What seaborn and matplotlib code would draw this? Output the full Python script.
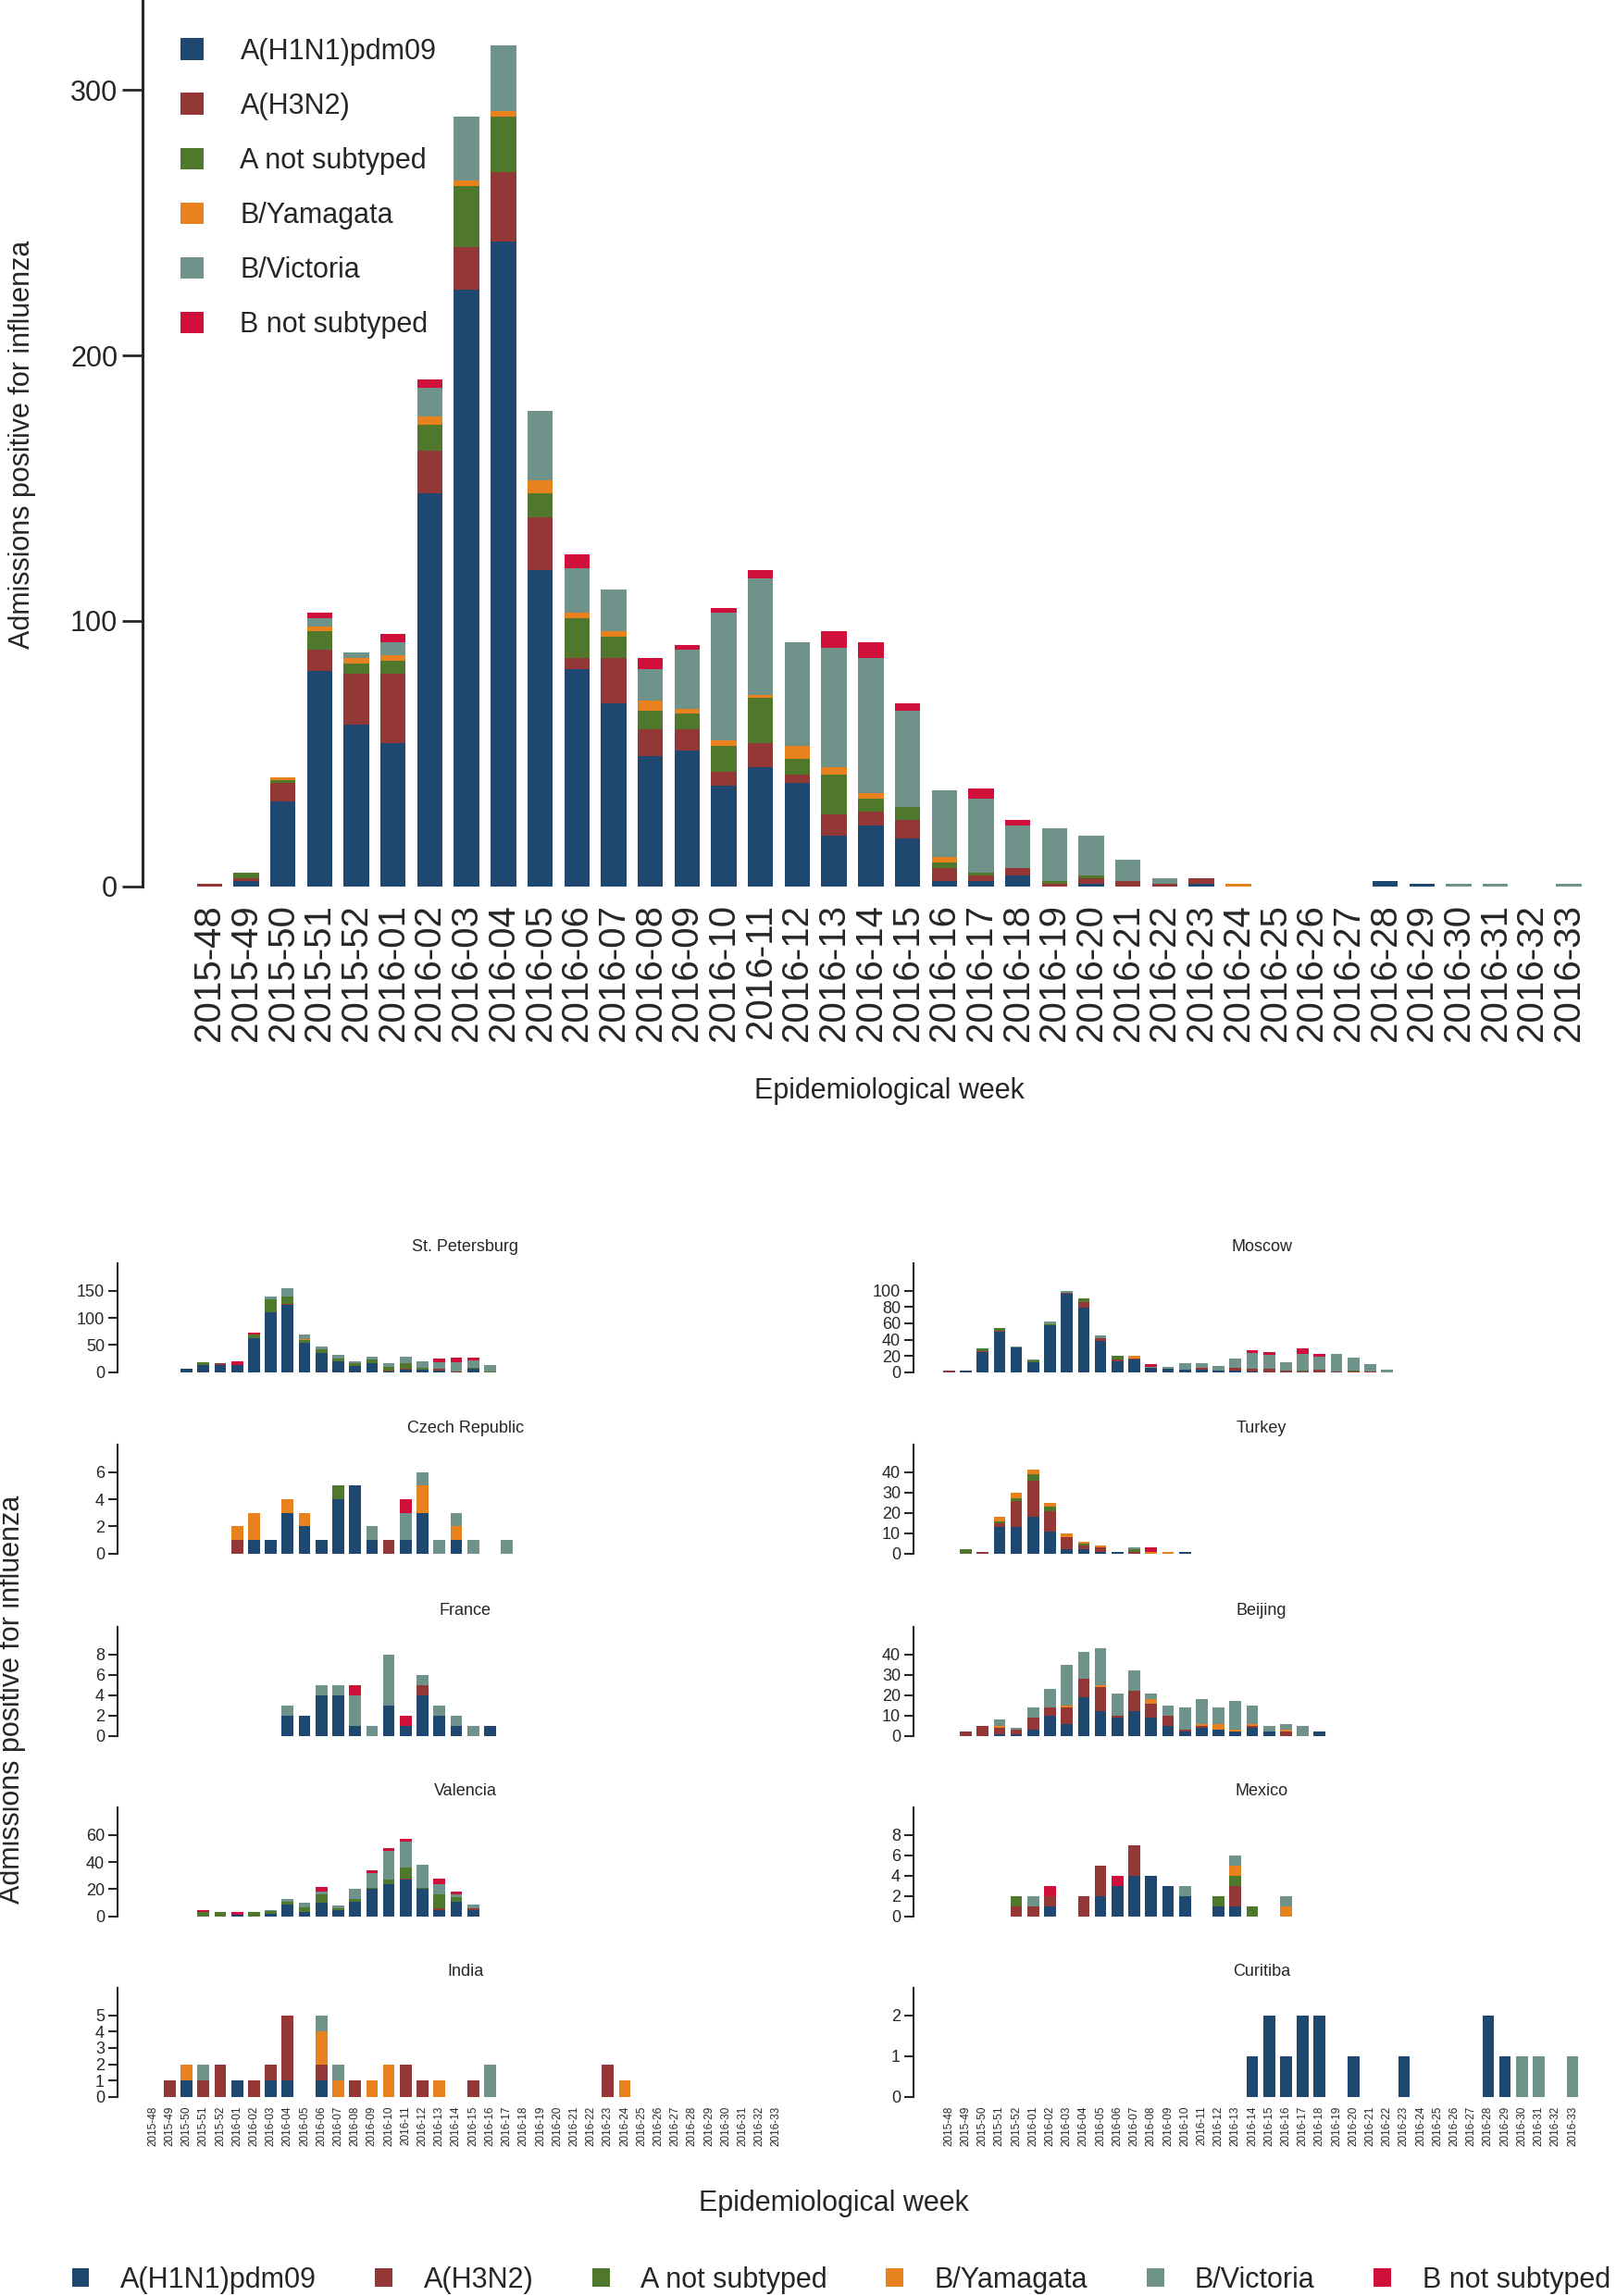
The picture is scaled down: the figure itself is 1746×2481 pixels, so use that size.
import matplotlib
matplotlib.use("Agg")
import matplotlib.pyplot as plt
from matplotlib.patches import Patch
import pandas as pd
import seaborn as sns

# weeks 2015-48 .. 2016-33
WEEKS = [f"2015-{w}" for w in range(48, 53)] + [f"2016-{w:02d}" for w in range(1, 34)]

SUBTYPES = ["A(H1N1)pdm09", "A(H3N2)", "A not subtyped",
            "B/Yamagata", "B/Victoria", "B not subtyped"]
COLORS = ["#1e4870", "#943737", "#50782d", "#e8821e", "#6f928a", "#d0103a"]

# all sites, one value per week
ALL_H1N1 = [0, 2, 32, 81, 61, 54, 148, 225, 243, 119, 82, 69, 49, 51, 38, 45, 39, 19, 23,
            18, 2, 2, 4, 0, 1, 0, 0, 1, 0, 0, 0, 0, 2, 1, 0, 0, 0, 0]
ALL_H3N2 = [1, 1, 7, 8, 19, 26, 16, 16, 26, 20, 4, 17, 10, 8, 5, 9, 3, 8, 5,
            7, 5, 2, 3, 1, 2, 2, 1, 2, 0, 0, 0, 0, 0, 0, 0, 0, 0, 0]
ALL_ANS = [0, 2, 1, 7, 4, 5, 10, 23, 21, 9, 15, 8, 7, 6, 10, 17, 6, 15, 5,
           5, 2, 1, 0, 1, 1, 0, 0, 0, 0, 0, 0, 0, 0, 0, 0, 0, 0, 0]
ALL_BYAM = [0, 0, 1, 2, 2, 2, 3, 2, 2, 5, 2, 2, 4, 2, 2, 1, 5, 3, 2,
            0, 2, 0, 0, 0, 0, 0, 0, 0, 1, 0, 0, 0, 0, 0, 0, 0, 0, 0]
ALL_BVIC = [0, 0, 0, 3, 2, 5, 11, 24, 25, 26, 17, 16, 12, 22, 48, 44, 39, 45, 51,
            36, 25, 28, 16, 20, 15, 8, 2, 0, 0, 0, 0, 0, 0, 0, 1, 1, 0, 1]
ALL_BNS = [0, 0, 0, 2, 0, 3, 3, 0, 0, 0, 5, 0, 4, 2, 2, 3, 0, 6, 6,
           3, 0, 4, 2, 0, 0, 0, 0, 0, 0, 0, 0, 0, 0, 0, 0, 0, 0, 0]

# sites: first week shown, then values per subtype from that week on
ST_PETERSBURG = {
    "start": "2015-50",
    "A(H1N1)pdm09": [7, 13, 13, 14, 63, 111, 124, 55, 35, 20, 12, 17, 1, 5, 5, 4, 0, 6, 0],
    "A(H3N2)": [0, 0, 3, 0, 0, 0, 1, 0, 0, 0, 0, 0, 2, 2, 0, 2, 1, 0, 0],
    "A not subtyped": [0, 5, 0, 0, 6, 23, 15, 4, 7, 5, 4, 6, 7, 10, 3, 1, 0, 3, 1],
    "B/Yamagata": [0, 0, 0, 0, 0, 0, 0, 2, 0, 0, 0, 0, 0, 0, 0, 0, 0, 0, 0],
    "B/Victoria": [0, 0, 1, 0, 0, 6, 14, 8, 5, 7, 5, 6, 7, 11, 12, 12, 18, 13, 13],
    "B not subtyped": [0, 0, 0, 6, 4, 0, 0, 0, 0, 0, 0, 0, 0, 0, 0, 6, 8, 5, 0],
}
MOSCOW = {
    "start": "2015-48",
    "A(H1N1)pdm09": [0, 2, 25, 50, 31, 12, 58, 96, 79, 38, 14, 16, 6, 4, 3, 3, 2, 2, 1,
                     0, 0, 0, 0, 0, 0, 0, 0],
    "A(H3N2)": [2, 0, 1, 1, 0, 0, 0, 1, 7, 4, 2, 1, 0, 0, 0, 2, 0, 3, 3, 4, 2, 1, 3, 1, 1, 1, 0],
    "A not subtyped": [0, 0, 3, 3, 0, 3, 1, 0, 5, 0, 4, 0, 0, 0, 0, 0, 0, 0, 0, 0, 0, 1, 0, 0, 1, 0, 0],
    "B/Yamagata": [0, 0, 0, 0, 0, 0, 0, 0, 0, 0, 0, 3, 0, 0, 0, 0, 0, 0, 0, 0, 0, 0, 0, 0, 0, 0, 0],
    "B/Victoria": [0, 0, 0, 0, 1, 1, 3, 3, 0, 3, 0, 0, 1, 3, 8, 6, 6, 12, 20, 17, 10, 21, 16,
                   21, 16, 9, 3],
    "B not subtyped": [0, 0, 0, 0, 0, 0, 0, 0, 0, 0, 0, 0, 3, 0, 0, 0, 0, 0, 3, 4, 0, 6, 3, 0, 0, 0, 0],
}
CZECH = {
    "start": "2016-01",
    "A(H1N1)pdm09": [0, 1, 1, 3, 2, 1, 4, 5, 1, 0, 1, 3, 0, 1, 0, 0, 0],
    "A(H3N2)": [1, 0, 0, 0, 0, 0, 0, 0, 0, 1, 0, 0, 0, 0, 0, 0, 0],
    "A not subtyped": [0, 0, 0, 0, 0, 0, 1, 0, 0, 0, 0, 0, 0, 0, 0, 0, 0],
    "B/Yamagata": [1, 2, 0, 1, 1, 0, 0, 0, 0, 0, 0, 2, 0, 1, 0, 0, 0],
    "B/Victoria": [0, 0, 0, 0, 0, 0, 0, 0, 1, 0, 2, 1, 1, 1, 1, 0, 1],
    "B not subtyped": [0, 0, 0, 0, 0, 0, 0, 0, 0, 0, 1, 0, 0, 0, 0, 0, 0],
}
TURKEY = {
    "start": "2015-49",
    "A(H1N1)pdm09": [0, 0, 13, 13, 18, 11, 2, 2, 1, 1, 0, 0, 0, 1],
    "A(H3N2)": [0, 1, 2, 13, 18, 10, 6, 2, 2, 0, 1, 0, 0, 0],
    "A not subtyped": [2, 0, 1, 1, 3, 2, 0, 1, 0, 0, 1, 0, 0, 0],
    "B/Yamagata": [0, 0, 2, 3, 2, 2, 2, 1, 1, 0, 0, 1, 1, 0],
    "B/Victoria": [0, 0, 0, 0, 0, 0, 0, 0, 0, 0, 1, 0, 0, 0],
    "B not subtyped": [0, 0, 0, 0, 0, 0, 0, 0, 0, 0, 0, 2, 0, 0],
}
FRANCE = {
    "start": "2016-04",
    "A(H1N1)pdm09": [2, 2, 4, 4, 1, 0, 3, 1, 4, 2, 1, 0, 1],
    "A(H3N2)": [0, 0, 0, 0, 0, 0, 0, 0, 1, 0, 0, 0, 0],
    "B/Victoria": [1, 0, 1, 1, 3, 1, 5, 0, 1, 1, 1, 1, 0],
    "B not subtyped": [0, 0, 0, 0, 1, 0, 0, 1, 0, 0, 0, 0, 0],
}
BEIJING = {
    "start": "2015-49",
    "A(H1N1)pdm09": [0, 0, 1, 1, 3, 10, 6, 19, 12, 9, 12, 9, 5, 2, 4, 3, 2, 4, 2, 0, 0, 2],
    "A(H3N2)": [2, 5, 3, 2, 6, 4, 8, 9, 12, 1, 10, 7, 5, 1, 1, 0, 0, 1, 0, 2, 0, 0],
    "B/Yamagata": [0, 0, 1, 0, 0, 0, 1, 0, 1, 0, 0, 2, 0, 0, 1, 3, 1, 1, 0, 1, 0, 0],
    "B/Victoria": [0, 0, 3, 1, 5, 9, 20, 13, 18, 11, 10, 3, 5, 11, 12, 8, 14, 9, 3, 3, 5, 0],
}
VALENCIA = {
    "start": "2015-51",
    "A(H1N1)pdm09": [0, 0, 1, 0, 2, 9, 3, 10, 5, 11, 20, 24, 27, 20, 5, 11, 5],
    "A(H3N2)": [0, 0, 0, 0, 0, 0, 0, 0, 0, 0, 0, 0, 1, 0, 1, 0, 1],
    "A not subtyped": [3, 3, 0, 3, 2, 2, 4, 6, 1, 2, 1, 3, 8, 1, 10, 3, 0],
    "B/Victoria": [0, 0, 0, 0, 1, 2, 3, 2, 2, 7, 11, 21, 19, 17, 8, 2, 3],
    "B not subtyped": [2, 0, 2, 0, 0, 0, 0, 4, 0, 0, 2, 2, 2, 0, 4, 2, 0],
}
MEXICO = {
    "start": "2015-52",
    "A(H1N1)pdm09": [0, 0, 1, 0, 0, 2, 3, 4, 4, 3, 2, 0, 1, 1, 0, 0, 0],
    "A(H3N2)": [1, 1, 1, 0, 2, 3, 0, 3, 0, 0, 0, 0, 0, 2, 0, 0, 0],
    "A not subtyped": [1, 0, 0, 0, 0, 0, 0, 0, 0, 0, 0, 0, 1, 1, 1, 0, 0],
    "B/Yamagata": [0, 0, 0, 0, 0, 0, 0, 0, 0, 0, 0, 0, 0, 1, 0, 0, 1],
    "B/Victoria": [0, 1, 0, 0, 0, 0, 0, 0, 0, 0, 1, 0, 0, 1, 0, 0, 1],
    "B not subtyped": [0, 0, 1, 0, 0, 0, 1, 0, 0, 0, 0, 0, 0, 0, 0, 0, 0],
}
INDIA = {
    "start": "2015-49",
    "A(H1N1)pdm09": [0, 1, 0, 0, 1, 0, 1, 1, 0, 1, 0, 0, 0, 0, 0, 0, 0, 0, 0, 0, 0, 0, 0, 0, 0, 0, 0, 0],
    "A(H3N2)": [1, 0, 1, 2, 0, 1, 1, 4, 0, 1, 0, 1, 0, 0, 2, 1, 0, 0, 1, 0, 0, 0, 0, 0, 0, 0, 2, 0],
    "B/Yamagata": [0, 1, 0, 0, 0, 0, 0, 0, 0, 2, 1, 0, 1, 2, 0, 0, 1, 0, 0, 0, 0, 0, 0, 0, 0, 0, 0, 1],
    "B/Victoria": [0, 0, 1, 0, 0, 0, 0, 0, 0, 1, 1, 0, 0, 0, 0, 0, 0, 0, 0, 2, 0, 0, 0, 0, 0, 0, 0, 0],
}
CURITIBA = {
    "start": "2016-14",
    "A(H1N1)pdm09": [1, 2, 1, 2, 2, 0, 1, 0, 0, 1, 0, 0, 0, 0, 2, 1, 0, 0, 0, 0],
    "B/Victoria": [0, 0, 0, 0, 0, 0, 0, 0, 0, 0, 0, 0, 0, 0, 0, 0, 1, 1, 0, 1],
}

SITES = [
    ("St. Petersburg", ST_PETERSBURG, [0, 50, 100, 150]),
    ("Moscow", MOSCOW, [0, 20, 40, 60, 80, 100]),
    ("Czech Republic", CZECH, [0, 2, 4, 6]),
    ("Turkey", TURKEY, [0, 10, 20, 30, 40]),
    ("France", FRANCE, [0, 2, 4, 6, 8]),
    ("Beijing", BEIJING, [0, 10, 20, 30, 40]),
    ("Valencia", VALENCIA, [0, 20, 40, 60]),
    ("Mexico", MEXICO, [0, 2, 4, 6, 8]),
    ("India", INDIA, [0, 1, 2, 3, 4, 5]),
    ("Curitiba", CURITIBA, [0, 1, 2]),
]

PALETTE = dict(zip(SUBTYPES, COLORS))


def to_long(site):
    i0 = WEEKS.index(site["start"])
    rows = []
    for name in SUBTYPES:
        for k, v in enumerate(site.get(name, [])):
            rows.append((i0 + k, name, v))
    return pd.DataFrame(rows, columns=["week", "subtype", "n"])


def stacked(ax, df, shrink):
    # seaborn puts the first hue level on top, so feed the order reversed
    sns.histplot(data=df, x="week", weights="n", hue="subtype",
                 hue_order=SUBTYPES[::-1], palette=PALETTE, multiple="stack",
                 discrete=True, shrink=shrink, alpha=1, linewidth=0,
                 legend=False, ax=ax)
    ax.set_xlabel("")
    ax.set_ylabel("")


sns.set_theme(style="ticks")
plt.rcParams["font.family"] = ["Liberation Sans", "DejaVu Sans"]

fig = plt.figure(figsize=(17.46, 24.81), dpi=100)

# ---- top chart: all sites
all_site = {"start": WEEKS[0], "A(H1N1)pdm09": ALL_H1N1, "A(H3N2)": ALL_H3N2,
            "A not subtyped": ALL_ANS, "B/Yamagata": ALL_BYAM,
            "B/Victoria": ALL_BVIC, "B not subtyped": ALL_BNS}
ax = fig.add_axes([0.088, 0.614, 0.912, 0.386])
stacked(ax, to_long(all_site), 0.69)
ax.set_xlim(-1.83, 38.28)
ax.set_ylim(0, 334)
ax.set_yticks([0, 100, 200, 300])
ax.set_xticks(range(len(WEEKS)))
ax.set_xticklabels(WEEKS, rotation=90, fontsize=29)
ax.tick_params(axis="x", length=0, pad=14)
ax.tick_params(axis="y", labelsize=22, length=16, width=2, pad=3)
sns.despine(ax=ax, bottom=True)
ax.spines["left"].set_linewidth(2.2)

handles = [Patch(facecolor=c, edgecolor="none") for c in COLORS]
ax.legend(handles, SUBTYPES, loc="upper left", bbox_to_anchor=(0.1115, 0.9835),
          bbox_transform=fig.transFigure, frameon=False, fontsize=22,
          handlelength=0.82, handleheight=0.82, handletextpad=1.3,
          labelspacing=0.95, borderpad=0, borderaxespad=0)

fig.text(0.0135, 0.8065, "Admissions positive for influenza", rotation=90,
         ha="center", va="center", fontsize=22)
fig.text(0.5504, 0.5248, "Epidemiological week", ha="center", va="center", fontsize=22)

# ---- small multiples
row_bottoms = [0.4023, 0.3233, 0.2439, 0.1653, 0.0867]
col_lefts = [0.0727, 0.5653]
for i, (title, site, ticks) in enumerate(SITES):
    r, c = divmod(i, 2)
    a = fig.add_axes([col_lefts[c], row_bottoms[r], 0.4307, 0.0474])
    stacked(a, to_long(site), 0.7)
    a.set_xlim(-2.1, 39.2)
    a.set_ylim(0, ticks[-1] * 4 / 3)
    a.set_yticks(ticks)
    a.set_xticks(range(len(WEEKS)))
    if r == 4:
        a.set_xticklabels(WEEKS, rotation=90, fontsize=8.5)
    else:
        a.set_xticklabels([])
    a.tick_params(axis="x", length=0, pad=7)
    a.tick_params(axis="y", labelsize=13, length=7, width=1.5, pad=3)
    sns.despine(ax=a, bottom=True)
    a.spines["left"].set_linewidth(1.5)
    a.text(0.5, 1.15, title, transform=a.transAxes, ha="center", va="center",
           fontsize=13)

fig.text(0.0075, 0.26, "Admissions positive for influenza", rotation=90,
         ha="center", va="center", fontsize=22)
fig.text(0.516, 0.0403, "Epidemiological week", ha="center", va="center", fontsize=22)

fig.legend(handles, SUBTYPES, loc="center left", bbox_to_anchor=(0.0444, 0.0068),
           ncol=6, frameon=False, fontsize=22, handlelength=0.62, handleheight=0.62,
           handletextpad=1.09, columnspacing=2.08, borderpad=0, borderaxespad=0)

fig.savefig("out.png", dpi=100, facecolor="white")
